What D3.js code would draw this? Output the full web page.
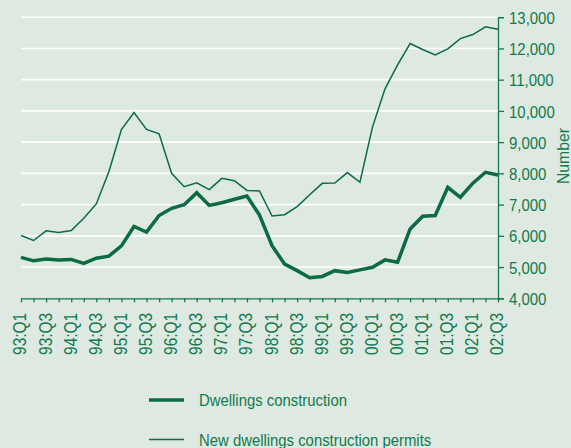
<!DOCTYPE html>
<html lang="en">
<head>
<meta charset="utf-8">
<title>Dwellings</title>
<script src="https://cdn.jsdelivr.net/npm/d3@7"></script>
<style>
    body { margin: 0; background: #dde9e1; }
    .txt { font-family: "Liberation Sans", Arial, sans-serif; fill: #127a4e; }
</style>
</head>
<body>
<div id="chart"></div>
<script>
    const w = 571, h = 448;

    // quarters 93:Q1 .. 02:Q3
    const quarters = [];
    for (let y = 93; y <= 102; y++) {
        for (let q = 1; q <= 4; q++) {
            if (y === 102 && q > 3) break;
            quarters.push(String(y % 100).padStart(2, "0") + ":Q" + q);
        }
    }

    const dwellings = [5310, 5200, 5255, 5225, 5245, 5120, 5285, 5350, 5680, 6300,
        6120, 6650, 6880, 6995, 7380, 6975, 7060, 7170, 7275, 6665,
        5685, 5095, 4885, 4660, 4700, 4885, 4825, 4910, 4995, 5230,
        5155, 6220, 6630, 6650, 7555, 7235, 7685, 8035, 7950];

    const permits = [6010, 5850, 6160, 6105, 6170, 6565, 7020, 8055, 9405, 9945,
        9405, 9265, 8000, 7575, 7700, 7480, 7840, 7765, 7455, 7435,
        6635, 6675, 6935, 7315, 7680, 7690, 8025, 7715, 9480, 10705,
        11475, 12155, 11965, 11795, 11985, 12315, 12445, 12690, 12615];

    const yTicks = [4000, 5000, 6000, 7000, 8000, 9000, 10000, 11000, 12000, 13000];

    const svg = d3.select("#chart").append("svg")
        .attr("width", w).attr("height", h);

    const x = d3.scalePoint().domain(quarters).range([21, 498]);
    const y = d3.scaleLinear().domain([4000, 13000]).range([298.3, 17.2]);

    // gridlines
    svg.append("g").selectAll("line")
        .data(yTicks.slice(1))
        .enter().append("line")
        .attr("x1", 21).attr("x2", 498)
        .attr("y1", d => y(d)).attr("y2", d => y(d))
        .attr("stroke", "#ffffff").attr("stroke-width", 1.6);

    // right axis
    const yAxis = svg.append("g")
        .attr("transform", "translate(498,0)")
        .call(d3.axisRight(y).tickValues(yTicks).tickFormat(d3.format(",")).tickSize(6));
    yAxis.select(".domain").attr("stroke", "#127a4e").attr("stroke-width", 1.3);
    yAxis.selectAll(".tick line").attr("stroke", "#127a4e").attr("stroke-width", 1.3);
    yAxis.selectAll("text").attr("class", "txt").attr("font-size", 17).attr("fill", null)
        .attr("x", 0).attr("dy", "0.36em")
        .attr("transform", "translate(11,0) scale(0.88,1)");

    // bottom axis
    const xAxis = svg.append("g")
        .attr("transform", "translate(0,298.3)")
        .call(d3.axisBottom(x).tickSize(4).tickSizeOuter(0)
            .tickFormat((d, i) => i % 2 === 0 ? d : ""));
    xAxis.select(".domain").attr("stroke", "#127a4e").attr("stroke-width", 1.3);
    xAxis.selectAll(".tick line").attr("stroke", "#127a4e").attr("stroke-width", 1.3);
    xAxis.selectAll("text")
        .attr("class", "txt").attr("font-size", 18).attr("fill", null)
        .attr("text-anchor", "end")
        .attr("x", 0).attr("y", 0).attr("dy", "0.36em")
        .attr("transform", "translate(-1.5,14.5) rotate(-90) scale(0.86,1)");

    svg.append("text")
        .attr("class", "txt").attr("font-size", 17)
        .attr("transform", "translate(569,156) rotate(-90) scale(0.93,1)")
        .attr("text-anchor", "middle")
        .text("Number");

    const line = d3.line().x((d, i) => x(quarters[i])).y(d => y(d));

    svg.append("path").datum(permits)
        .attr("d", line).attr("fill", "none")
        .attr("stroke", "#0b6b41").attr("stroke-width", 1.5);

    svg.append("path").datum(dwellings)
        .attr("d", line).attr("fill", "none")
        .attr("stroke", "#0b6b41").attr("stroke-width", 3.5);

    // legend
    const legend = [
        {name: "Dwellings construction", width: 3.5, y: 400},
        {name: "New dwellings construction permits", width: 1.5, y: 439.5}
    ];
    const lg = svg.append("g").selectAll("g").data(legend).enter().append("g");
    lg.append("line")
        .attr("x1", 149).attr("x2", 184)
        .attr("y1", d => d.y).attr("y2", d => d.y)
        .attr("stroke", "#0b6b41").attr("stroke-width", d => d.width);
    lg.append("text")
        .attr("class", "txt").attr("font-size", 17)
        .attr("transform", d => "translate(199," + (d.y + 6) + ") scale(0.875,1)")
        .text(d => d.name);
</script>
</body>
</html>
